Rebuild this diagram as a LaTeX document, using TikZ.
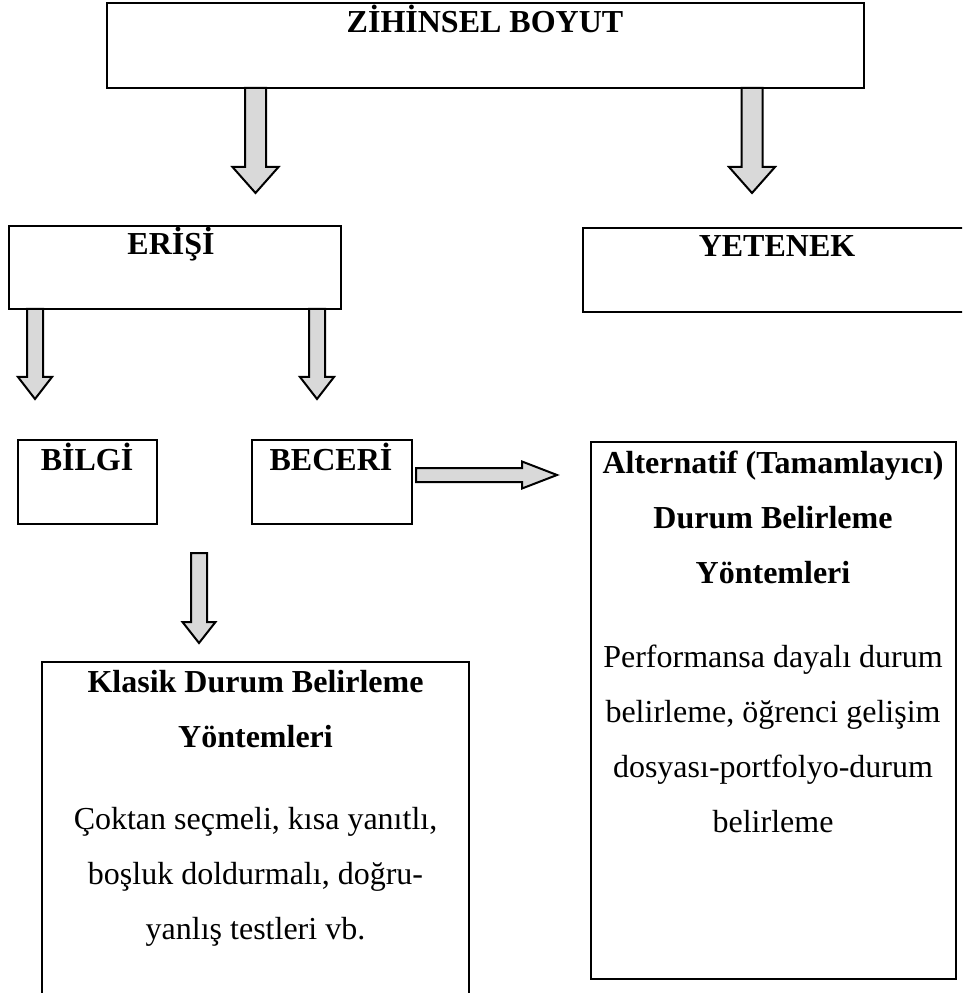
\documentclass[tikz,border=0pt]{standalone}
\usepackage{fontspec}
\setmainfont{Liberation Serif}
\usetikzlibrary{calc}
\definecolor{arrowgray}{HTML}{D9D9D9}
\tikzset{
  box/.style={draw, line width=1pt, outer sep=0pt, inner sep=0pt, anchor=north west},
  hd/.style={font=\bfseries\fontsize{12}{14}\selectfont, anchor=base, inner sep=0pt},
  tx/.style={font=\fontsize{12}{14}\selectfont, anchor=base, inner sep=0pt},
  blockarrow/.style={draw, line width=0.75pt, fill=arrowgray, line join=miter},
}
% #1 start, #2 tip, #3 shaft half width, #4 head half width, #5 head length (px)
\newcommand{\barrowdown}[5]{%
  \draw[blockarrow] let \p1=(#1), \p2=(#2) in
   ({\x1-#3*0.375pt},\y1) -- ({\x1-#3*0.375pt},{\y2+#5*0.375pt}) --
   ({\x1-#4*0.375pt},{\y2+#5*0.375pt}) -- (\x1,\y2) --
   ({\x1+#4*0.375pt},{\y2+#5*0.375pt}) -- ({\x1+#3*0.375pt},{\y2+#5*0.375pt}) --
   ({\x1+#3*0.375pt},\y1) -- cycle;}
\newcommand{\barrowright}[5]{%
  \draw[blockarrow] let \p1=(#1), \p2=(#2) in
   (\x1,{\y1+#3*0.375pt}) -- ({\x2-#5*0.375pt},{\y1+#3*0.375pt}) --
   ({\x2-#5*0.375pt},{\y1+#4*0.375pt}) -- (\x2,\y1) --
   ({\x2-#5*0.375pt},{\y1-#4*0.375pt}) -- ({\x2-#5*0.375pt},{\y1-#3*0.375pt}) --
   (\x1,{\y1-#3*0.375pt}) -- cycle;}
\begin{document}
\begin{tikzpicture}[x=0.375pt,y=-0.375pt]
\clip (0,0) rectangle (962,993);
\fill[white] (0,0) rectangle (962,993);

% boxes
\node[box, minimum width=757*0.375pt, minimum height=85*0.375pt] (zb) at (107,3) {};
\node[box, minimum width=332*0.375pt, minimum height=83*0.375pt] (er) at (9,226) {};
\node[box, minimum width=400*0.375pt, minimum height=84*0.375pt] (ye) at (583,228) {};
\node[box, minimum width=139*0.375pt, minimum height=84*0.375pt] (bi) at (18,440) {};
\node[box, minimum width=160*0.375pt, minimum height=84*0.375pt] (be) at (252,440) {};
\node[box, minimum width=365*0.375pt, minimum height=537*0.375pt] (al) at (591,442) {};
\node[box, minimum width=427*0.375pt, minimum height=360*0.375pt] (kl) at (42,662) {};

% texts
\node[hd] (zbt) at (485,33) {ZİHİNSEL BOYUT};
\node[hd] (ert) at (171,255) {ERİŞİ};
\node[hd] (yet) at (777,257) {YETENEK};
\node[hd] (bit) at (87,470) {BİLGİ};
\node[hd] (bet) at (331,470) {BECERİ};

\node[hd] (al1) at (773,473) {Alternatif (Tamamlayıcı)};
\node[hd] (al2) at (773,528) {Durum Belirleme};
\node[hd] (al3) at (773,583) {Yöntemleri};
\node[tx] (al4) at (773,667) {Performansa dayalı durum};
\node[tx] (al5) at (773,722) {belirleme, öğrenci gelişim};
\node[tx] (al6) at (773,777) {dosyası-portfolyo-durum};
\node[tx] (al7) at (773,832) {belirleme};

\node[hd] (kl1) at (255.5,692) {Klasik Durum Belirleme};
\node[hd] (kl2) at (255.5,747) {Yöntemleri};
\node[tx] (kl3) at (255.5,829) {Çoktan seçmeli, kısa yanıtlı,};
\node[tx] (kl4) at (255.5,884) {boşluk doldurmalı, doğru-};
\node[tx] (kl5) at (255.5,939) {yanlış testleri vb.};

% arrow coordinates
\coordinate (a1s) at (255.5,0 |- zb.south);
\coordinate (a1e) at (255.5,193);
\coordinate (a2s) at (752,0 |- zb.south);
\coordinate (a2e) at (752,193);
\coordinate (a3s) at (35,0 |- er.south);
\coordinate (a3e) at (35,399);
\coordinate (a4s) at (317,0 |- er.south);
\coordinate (a4e) at (317,399);
\coordinate (a5s) at ($(be.east)+(4,-7)$);
\coordinate (a5e) at (557,475);
\coordinate (a6s) at (199,553);
\coordinate (a6e) at (199,643);

\barrowdown{a1s}{a1e}{10.5}{23}{26}
\barrowdown{a2s}{a2e}{10.5}{23}{26}
\barrowdown{a3s}{a3e}{8}{17}{22}
\barrowdown{a4s}{a4e}{8}{17}{22}
\barrowright{a5s}{a5e}{7}{13.5}{35}
\barrowdown{a6s}{a6e}{8}{16.5}{21}
\end{tikzpicture}
\end{document}
